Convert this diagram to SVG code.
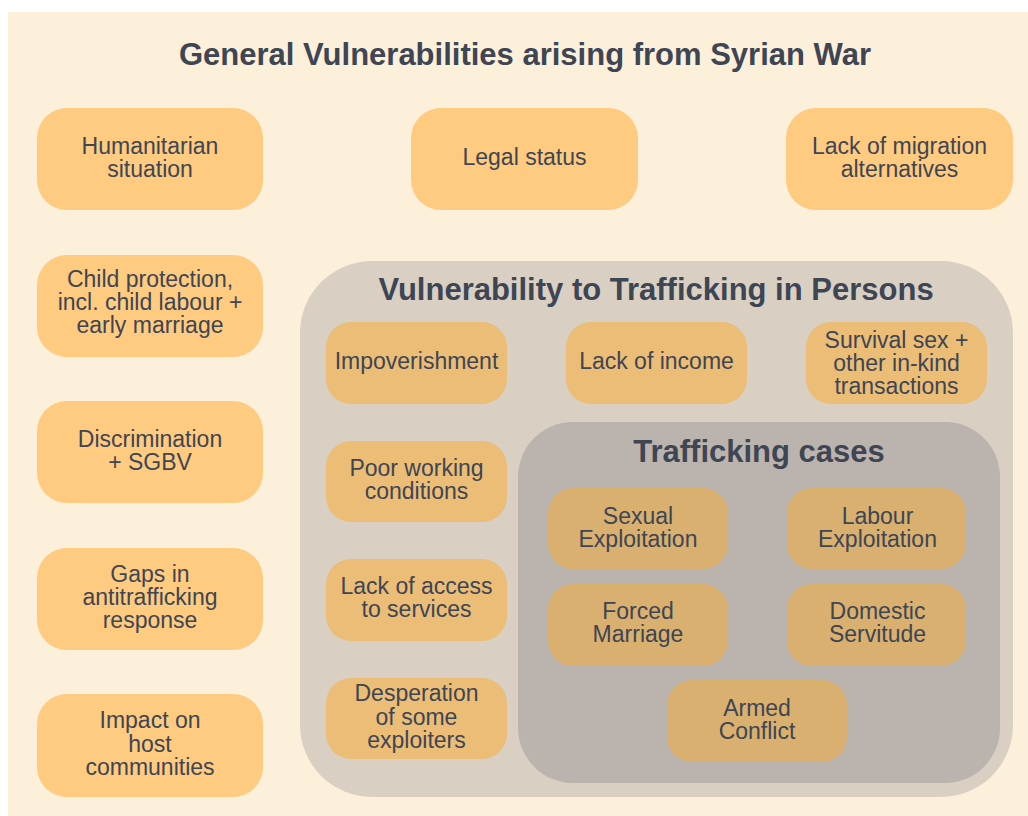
<svg xmlns="http://www.w3.org/2000/svg" width="1028" height="816" viewBox="0 0 1028 816">
<style>
text{font-family:"Liberation Sans",Arial,sans-serif;fill:#3E4553;text-anchor:middle}
.t{font-size:31px;font-weight:bold}
.n{font-size:23px}
.g{fill:#FECB80}
.v{fill:#EBBD77}
.c{fill:#D9B06F}
</style>
<rect x="0" y="0" width="1028" height="816" fill="#FFFFFF"/>
<rect x="8" y="12" width="1020" height="804" fill="#FDF0DB"/>
<g id="title"><text class="t" x="525" y="65">General Vulnerabilities arising from Syrian War</text></g>
<g id="connectors"></g>
<g id="humanitarian"><rect class="g" x="37" y="108" width="226" height="102" rx="30"/><text class="n" x="150" y="154">Humanitarian</text><text class="n" x="150" y="177">situation</text></g>
<g id="legal"><rect class="g" x="411" y="108" width="227" height="102" rx="30"/><text class="n" x="524.5" y="165">Legal status</text></g>
<g id="migration"><rect class="g" x="786" y="108" width="227" height="102" rx="30"/><text class="n" x="899.5" y="154">Lack of migration</text><text class="n" x="899.5" y="177">alternatives</text></g>
<g id="child"><rect class="g" x="37" y="255" width="226" height="102" rx="30"/><text class="n" x="150" y="287">Child protection,</text><text class="n" x="150" y="310">incl. child labour +</text><text class="n" x="150" y="333">early marriage</text></g>
<g id="discrimination"><rect class="g" x="37" y="401" width="226" height="102" rx="30"/><text class="n" x="150" y="447">Discrimination</text><text class="n" x="150" y="470">+ SGBV</text></g>
<g id="gaps"><rect class="g" x="37" y="548" width="226" height="102" rx="30"/><text class="n" x="150" y="582">Gaps in</text><text class="n" x="150" y="605">antitrafficking</text><text class="n" x="150" y="628">response</text></g>
<g id="impact"><rect class="g" x="37" y="694" width="226" height="103" rx="30"/><text class="n" x="150" y="728">Impact on</text><text class="n" x="150" y="752">host</text><text class="n" x="150" y="775">communities</text></g>
<g id="vulnerability">
<rect x="300" y="261" width="713" height="536" rx="72" fill="#D9D0C3"/>
<text class="t" x="656" y="300">Vulnerability to Trafficking in Persons</text>
</g>
<g id="impoverishment"><rect class="v" x="326" y="322" width="181" height="82" rx="25"/><text class="n" x="416.5" y="369">Impoverishment</text></g>
<g id="income"><rect class="v" x="566" y="322" width="181" height="82" rx="25"/><text class="n" x="656.5" y="369">Lack of income</text></g>
<g id="survival"><rect class="v" x="806" y="322" width="181" height="82" rx="25"/><text class="n" x="896.5" y="348">Survival sex +</text><text class="n" x="896.5" y="371">other in-kind</text><text class="n" x="896.5" y="394">transactions</text></g>
<g id="working"><rect class="v" x="326" y="441" width="181" height="81" rx="25"/><text class="n" x="416.5" y="476">Poor working</text><text class="n" x="416.5" y="499">conditions</text></g>
<g id="access"><rect class="v" x="326" y="559" width="181" height="82" rx="25"/><text class="n" x="416.5" y="594">Lack of access</text><text class="n" x="416.5" y="617">to services</text></g>
<g id="desperation"><rect class="v" x="326" y="678" width="181" height="81" rx="25"/><text class="n" x="416.5" y="701">Desperation</text><text class="n" x="416.5" y="725">of some</text><text class="n" x="416.5" y="748">exploiters</text></g>
<g id="cases">
<rect x="518" y="422" width="482" height="361" rx="55" fill="#BBB4AE"/>
<text class="t" x="759" y="462">Trafficking cases</text>
</g>
<g id="sexual"><rect class="c" x="548" y="488" width="180" height="81" rx="25"/><text class="n" x="638" y="524">Sexual</text><text class="n" x="638" y="547">Exploitation</text></g>
<g id="labour"><rect class="c" x="787" y="488" width="179" height="81" rx="25"/><text class="n" x="877.5" y="524">Labour</text><text class="n" x="877.5" y="547">Exploitation</text></g>
<g id="forced"><rect class="c" x="548" y="584" width="180" height="82" rx="25"/><text class="n" x="638" y="619">Forced</text><text class="n" x="638" y="642">Marriage</text></g>
<g id="domestic"><rect class="c" x="787" y="584" width="179" height="82" rx="25"/><text class="n" x="877.5" y="619">Domestic</text><text class="n" x="877.5" y="642">Servitude</text></g>
<g id="armed"><rect class="c" x="667" y="680" width="180" height="82" rx="25"/><text class="n" x="757" y="716">Armed</text><text class="n" x="757" y="739">Conflict</text></g>
</svg>
